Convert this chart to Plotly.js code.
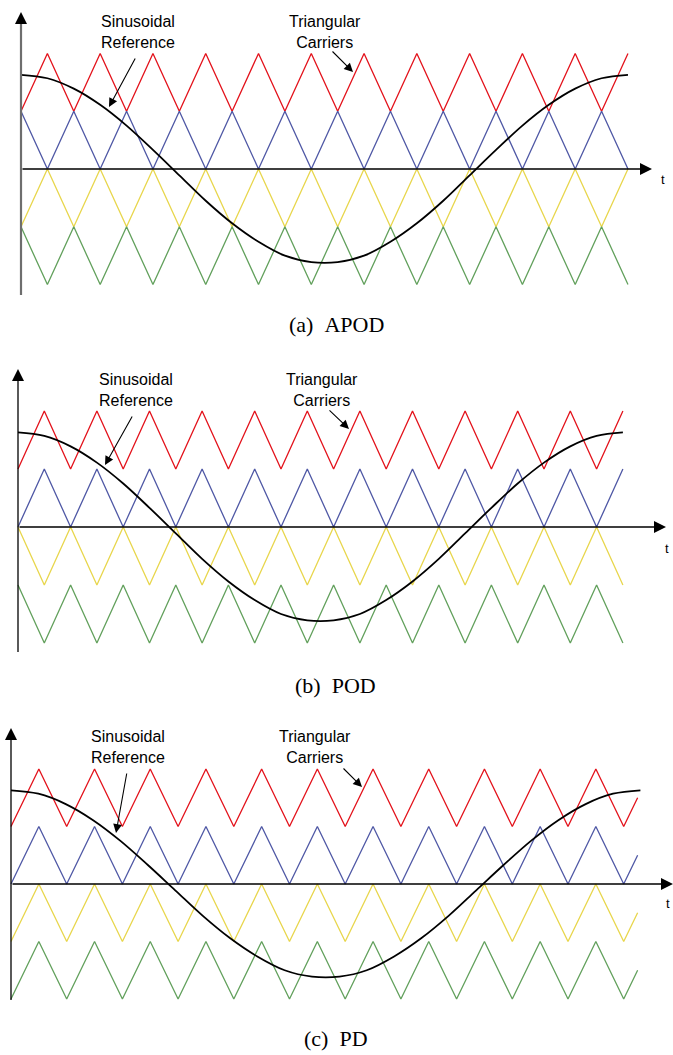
<!DOCTYPE html>
<html>
<head>
<meta charset="utf-8">
<script src="https://cdn.plot.ly/plotly-3.0.1.min.js"></script>
<style>html,body{margin:0;padding:0;background:#fff;}#chart{width:673px;height:1055px;}</style>
</head>
<body>
<div id="chart"></div>
<script>
// ---------- DATA (carrier periods on the time axis, carrier band units on the value axis) ----------
// vertex times of the triangular carriers
const tCarAB = [0,0.5,1,1.5,2,2.5,3,3.5,4,4.5,5,5.5,6,6.5,7,7.5,8,8.5,9,9.5,10,10.5,11,11.5];
const tCarC  = [0,0.5,1,1.5,2,2.5,3,3.5,4,4.5,5,5.5,6,6.5,7,7.5,8,8.5,9,9.5,10,10.5,11,11.25];

// (a) APOD carriers
const apodRed    = [1,2,1,2,1,2,1,2,1,2,1,2,1,2,1,2,1,2,1,2,1,2,1,2];
const apodBlue   = [1,0,1,0,1,0,1,0,1,0,1,0,1,0,1,0,1,0,1,0,1,0,1,0];
const apodYellow = [-1,0,-1,0,-1,0,-1,0,-1,0,-1,0,-1,0,-1,0,-1,0,-1,0,-1,0,-1,0];
const apodGreen  = [-1,-2,-1,-2,-1,-2,-1,-2,-1,-2,-1,-2,-1,-2,-1,-2,-1,-2,-1,-2,-1,-2,-1,-2];

// (b) POD carriers
const podRed    = [1,2,1,2,1,2,1,2,1,2,1,2,1,2,1,2,1,2,1,2,1,2,1,2];
const podBlue   = [0,1,0,1,0,1,0,1,0,1,0,1,0,1,0,1,0,1,0,1,0,1,0,1];
const podYellow = [0,-1,0,-1,0,-1,0,-1,0,-1,0,-1,0,-1,0,-1,0,-1,0,-1,0,-1,0,-1];
const podGreen  = [-1,-2,-1,-2,-1,-2,-1,-2,-1,-2,-1,-2,-1,-2,-1,-2,-1,-2,-1,-2,-1,-2,-1,-2];

// (c) PD carriers
const pdRed    = [1,2,1,2,1,2,1,2,1,2,1,2,1,2,1,2,1,2,1,2,1,2,1,1.5];
const pdBlue   = [0,1,0,1,0,1,0,1,0,1,0,1,0,1,0,1,0,1,0,1,0,1,0,0.5];
const pdYellow = [-1,0,-1,0,-1,0,-1,0,-1,0,-1,0,-1,0,-1,0,-1,0,-1,0,-1,0,-1,-0.5];
const pdGreen  = [-2,-1,-2,-1,-2,-1,-2,-1,-2,-1,-2,-1,-2,-1,-2,-1,-2,-1,-2,-1,-2,-1,-2,-1.5];

// sinusoidal reference samples
const tRefAB = [0,0.5,1,1.5,2,2.5,3,3.5,4,4.5,5,5.5,6,6.5,7,7.5,8,8.5,9,9.5,10,10.5,11,11.5];
const tRefC  = [0,0.491,0.983,1.474,1.965,2.457,2.948,3.439,3.93,4.422,4.913,5.404,5.896,6.387,6.878,7.37,7.861,8.352,8.843,9.335,9.826,10.317,10.809,11.3];
const refVals = [1.63,1.57,1.39,1.11,0.75,0.33,-0.11,-0.55,-0.94,-1.26,-1.5,-1.61,-1.61,-1.5,-1.26,-0.94,-0.55,-0.11,0.33,0.75,1.11,1.39,1.57,1.63];

const captions = ['(a)\u00a0\u00a0APOD', '(b)\u00a0\u00a0POD', '(c)\u00a0\u00a0PD'];
const labelSin = 'Sinusoidal<br>Reference';
const labelTri = 'Triangular<br>Carriers';

// ---------- LAYOUT GEOMETRY ----------
const W = 673, H = 1055;
const COL = {red:'#e3121b', blue:'#4f58a5', yellow:'#e8d64c', green:'#62a05c'};
const panels = [
  {top:0,   bot:350,  ox:21, oy:169, sx:52.78, sy:57.8, yBot:295,  yTip:12,  xTip:652, tPos:[663,180],
   sinTxt:[138,31.5], sinArrow:[[136,57],[109,107]], triTxt:[325,31.5], triArrow:[[331,50],[353,72]], cap:[336,325],
   yAxisColor:'#6e6e6e', yAxisW:2.2},
  {top:350, bot:705,  ox:18, oy:527, sx:52.6, sy:58, yBot:652, yTip:369, xTip:666, tPos:[667,548],
   sinTxt:[135.5,389.5], sinArrow:[[133,415],[105,465]], triTxt:[321.5,389.5], triArrow:[[328,409],[349,429]], cap:[335,685],
   yAxisColor:'#000', yAxisW:1.3},
  {top:705, bot:1055, ox:11, oy:884, sx:55.7, sy:57.5, yBot:1000, yTip:728, xTip:673, tPos:[668,903],
   sinTxt:[128,747], sinArrow:[[127,772],[116,833]], triTxt:[315,747], triArrow:[[342,767],[362,787]], cap:[336,1038],
   yAxisColor:'#000', yAxisW:1.3}
];
const carrierSets = [
  {t:tCarAB, r:apodRed, b:apodBlue, y:apodYellow, g:apodGreen, tr:tRefAB},
  {t:tCarAB, r:podRed,  b:podBlue,  y:podYellow,  g:podGreen,  tr:tRefAB},
  {t:tCarC,  r:pdRed,   b:pdBlue,   y:pdYellow,   g:pdGreen,   tr:tRefC}
];

const traces = [], annotations = [], shapes = [];
const layout = {
  width:W, height:H, margin:{l:0,r:0,t:0,b:0}, showlegend:false,
  paper_bgcolor:'#fff', plot_bgcolor:'rgba(0,0,0,0)', hovermode:false
};
const px = (x) => x / W, py = (y) => 1 - y / H;

panels.forEach((p, i) => {
  const n = i === 0 ? '' : String(i + 1);
  const xa = 'x' + n, ya = 'y' + n;
  layout['xaxis' + n] = {domain:[0,1], range:[-p.ox / p.sx, (W - p.ox) / p.sx], visible:false, fixedrange:true, anchor:ya};
  layout['yaxis' + n] = {domain:[1 - p.bot / H, 1 - p.top / H], range:[-(p.bot - p.oy) / p.sy, (p.oy - p.top) / p.sy], visible:false, fixedrange:true, anchor:xa};
  const s = carrierSets[i];
  const lw = 1.3;
  [['r','red'],['b','blue'],['y','yellow'],['g','green']].forEach(([k,c]) => {
    traces.push({type:'scatter', mode:'lines', x:s.t, y:s[k], xaxis:xa, yaxis:ya, line:{color:COL[c], width:lw}, cliponaxis:false});
  });
  // x axis line with arrow
  const dx = (X) => (X - p.ox) / p.sx, dy = (Y) => (p.oy - Y) / p.sy;
  annotations.push({xref:xa, yref:ya, axref:xa, ayref:ya, x:dx(p.xTip), y:0, ax:0, ay:0, text:'', showarrow:true,
    arrowhead:2, arrowsize:1.6, arrowwidth:1.5, arrowcolor:'#000', standoff:0, startstandoff:0});
  // y axis line (shape) + arrow head
  shapes.push({type:'line', xref:xa, yref:ya, x0:0, x1:0, y0:dy(p.yBot), y1:dy(p.yTip + 8), line:{color:p.yAxisColor, width:p.yAxisW}});
  annotations.push({xref:xa, yref:ya, axref:xa, ayref:ya, x:0, y:dy(p.yTip), ax:0, ay:dy(p.yTip + 12), text:'', showarrow:true,
    arrowhead:2, arrowsize:1.6, arrowwidth:1.5, arrowcolor:'#000', standoff:0, startstandoff:0});
  // reference sinusoid
  traces.push({type:'scatter', mode:'lines', x:s.tr, y:refVals, xaxis:xa, yaxis:ya, line:{color:'#000', width:1.8, shape:'spline', smoothing:1}, cliponaxis:false});

  const sansFont = {family:'Liberation Sans, Arial, sans-serif', size:16, color:'#000'};
  annotations.push({xref:'paper', yref:'paper', x:px(p.tPos[0]), y:py(p.tPos[1]), text:'t', showarrow:false, xanchor:'center', yanchor:'middle', font:{family:'Liberation Sans, Arial, sans-serif', size:13, color:'#000'}});
  annotations.push({xref:'paper', yref:'paper', x:px(p.sinTxt[0]), y:py(p.sinTxt[1]), text:labelSin, showarrow:false, xanchor:'center', yanchor:'middle', align:'center', font:sansFont});
  annotations.push({xref:'paper', yref:'paper', x:px(p.triTxt[0]), y:py(p.triTxt[1]), text:labelTri, showarrow:false, xanchor:'center', yanchor:'middle', align:'center', font:sansFont});
  [p.sinArrow, p.triArrow].forEach(a => {
    annotations.push({xref:'paper', yref:'paper', x:px(a[1][0]), y:py(a[1][1]), ax:a[0][0] - a[1][0], ay:a[0][1] - a[1][1], axref:'pixel', ayref:'pixel',
      text:'', showarrow:true, arrowhead:2, arrowsize:1.6, arrowwidth:1.1, arrowcolor:'#000', standoff:0});
  });
  annotations.push({xref:'paper', yref:'paper', x:px(p.cap[0]), y:py(p.cap[1]), text:captions[i], showarrow:false, xanchor:'center', yanchor:'middle',
    font:{family:'Liberation Serif, Times New Roman, serif', size:22, color:'#000'}});
});
layout.annotations = annotations;
layout.shapes = shapes;
Plotly.newPlot('chart', traces, layout, {displayModeBar:false, staticPlot:true});
</script>
</body>
</html>
